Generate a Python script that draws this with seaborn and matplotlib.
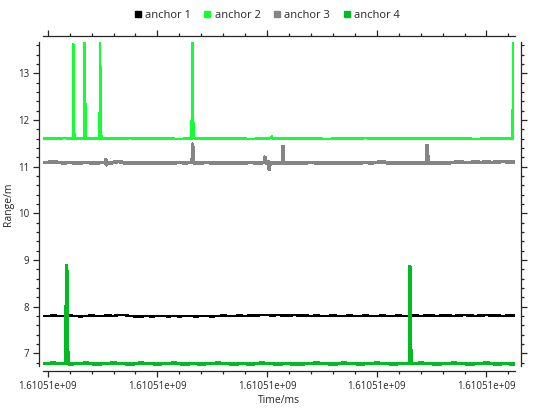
import numpy as np
import pandas as pd
import matplotlib
matplotlib.use("Agg")
import matplotlib.pyplot as plt
import seaborn as sns
from matplotlib.lines import Line2D
from matplotlib.ticker import MultipleLocator, AutoMinorLocator, FuncFormatter

sns.set_style("ticks")
plt.rcParams['font.family'] = ['Open Sans', 'DejaVu Sans']

# time origin (s) and sample times, offsets in seconds
T0 = 1610510000
t_base = [0, 1, 2, 3, 4, 5, 6, 7, 8, 9,
          10, 11, 12, 13, 14, 15, 16, 17, 18, 19,
          20, 21, 22, 23, 24, 25, 26, 27, 28, 29,
          30, 31, 32, 33, 34, 35, 36, 37, 38, 39,
          40, 41, 42, 43, 44, 45, 46, 47, 48, 49,
          50, 51, 52, 53, 54, 55, 56, 57, 58, 59,
          60, 61, 62, 63, 64, 65, 66, 67, 68, 69,
          70, 71, 72, 73, 74, 75, 76, 77, 78, 79,
          80, 81, 82, 83, 84]

names = ["anchor 1", "anchor 2", "anchor 3", "anchor 4"]
colors = ["#000000", "#11ff33", "#858585", "#00bb22"]
widths = [1.1, 1.0, 1.9, 1.9]

a1_base = [7.80, 7.81, 7.80, 7.80, 7.81, 7.80, 7.79, 7.80, 7.81, 7.80,
           7.80, 7.81, 7.80, 7.82, 7.82, 7.80, 7.79, 7.79, 7.80, 7.79,
           7.80, 7.80, 7.79, 7.80, 7.79, 7.80, 7.80, 7.79, 7.80, 7.80,
           7.79, 7.80, 7.81, 7.80, 7.80, 7.81, 7.80, 7.81, 7.81, 7.82,
           7.82, 7.81, 7.82, 7.81, 7.81, 7.82, 7.81, 7.81, 7.80, 7.81,
           7.80, 7.80, 7.81, 7.80, 7.80, 7.81, 7.80, 7.80, 7.81, 7.80,
           7.80, 7.81, 7.80, 7.80, 7.81, 7.80, 7.80, 7.81, 7.80, 7.81,
           7.81, 7.80, 7.81, 7.81, 7.80, 7.81, 7.82, 7.81, 7.80, 7.81,
           7.82, 7.81, 7.81, 7.80, 7.81]
a1_extra_t = [-0.86, 85.2]
a1_extra_r = [7.80, 7.81]

a2_base = [11.60, 11.60, 11.60, 11.61, 11.60, 11.60, 11.60, 11.60, 11.60, 11.60,
           11.60, 11.60, 11.60, 11.60, 11.60, 11.61, 11.60, 11.60, 11.60, 11.60,
           11.60, 11.60, 11.60, 11.60, 11.59, 11.60, 11.60, 11.60, 11.60, 11.60,
           11.60, 11.60, 11.60, 11.60, 11.60, 11.60, 11.60, 11.59, 11.60, 11.60,
           11.60, 11.60, 11.60, 11.60, 11.60, 11.60, 11.60, 11.60, 11.60, 11.60,
           11.60, 11.59, 11.60, 11.60, 11.60, 11.60, 11.60, 11.60, 11.61, 11.60,
           11.60, 11.60, 11.60, 11.60, 11.60, 11.60, 11.60, 11.60, 11.60, 11.60,
           11.60, 11.60, 11.60, 11.60, 11.60, 11.60, 11.60, 11.60, 11.59, 11.60,
           11.60, 11.60, 11.60, 11.60, 11.60]
a2_extra_t = [-0.86,
              4.60, 4.68, 4.76, 4.84, 4.92,
              6.62, 6.72, 6.82, 6.90, 6.97,
              9.45, 9.55, 9.65, 9.75, 9.88,
              26.22, 26.30, 26.40, 26.50, 26.60, 26.80,
              40.75, 40.88, 40.97,
              84.75, 84.85]
a2_extra_r = [11.60,
              11.60, 13.62, 13.10, 11.72, 11.62,
              11.60, 13.66, 12.80, 11.75, 11.62,
              11.60, 13.64, 12.40, 11.68, 11.61,
              11.60, 12.60, 13.66, 12.20, 11.65, 11.61,
              11.61, 11.66, 11.62,
              11.60, 13.68]

a3_base = [11.09, 11.10, 11.09, 11.08, 11.09, 11.08, 11.08, 11.09, 11.08, 11.08,
           11.09, 11.07, 11.09, 11.11, 11.08, 11.07, 11.08, 11.08, 11.07, 11.08,
           11.08, 11.07, 11.08, 11.08, 11.09, 11.08, 11.09, 11.08, 11.08, 11.09,
           11.08, 11.07, 11.08, 11.08, 11.07, 11.08, 11.08, 11.09, 11.08, 11.08,
           11.07, 11.08, 11.08, 11.08, 11.07, 11.08, 11.07, 11.08, 11.09, 11.08,
           11.08, 11.07, 11.08, 11.08, 11.08, 11.07, 11.08, 11.08, 11.09, 11.08,
           11.09, 11.11, 11.08, 11.08, 11.07, 11.08, 11.08, 11.07, 11.08, 11.08,
           11.08, 11.08, 11.07, 11.08, 11.09, 11.10, 11.09, 11.09, 11.10, 11.09,
           11.10, 11.09, 11.10, 11.11, 11.10]
a3_extra_t = [-0.86,
              10.50, 10.60, 10.70, 10.85,
              26.35, 26.42, 26.50, 26.60,
              39.50, 39.60, 39.70, 40.30, 40.40, 40.50,
              42.80, 42.86, 42.94, 42.99,
              69.10, 69.16, 69.30, 69.45,
              85.2]
a3_extra_r = [11.09,
              11.09, 11.15, 11.04, 11.08,
              11.09, 11.48, 11.12, 11.08,
              11.09, 11.20, 11.12, 11.10, 10.94, 11.05,
              11.08, 11.43, 11.42, 11.10,
              11.08, 11.45, 11.20, 11.08,
              11.10]

a4_base = [6.78, 6.79, 6.78, 6.78, 6.77, 6.78, 6.78, 6.79, 6.78, 6.77,
           6.78, 6.78, 6.79, 6.78, 6.78, 6.77, 6.78, 6.79, 6.78, 6.78,
           6.77, 6.78, 6.78, 6.79, 6.78, 6.77, 6.78, 6.78, 6.77, 6.78,
           6.78, 6.79, 6.78, 6.78, 6.77, 6.78, 6.78, 6.77, 6.78, 6.79,
           6.78, 6.78, 6.77, 6.78, 6.78, 6.77, 6.77, 6.78, 6.78, 6.79,
           6.78, 6.78, 6.77, 6.78, 6.79, 6.78, 6.78, 6.77, 6.78, 6.78,
           6.79, 6.78, 6.78, 6.77, 6.78, 6.78, 6.78, 6.78, 6.79, 6.78,
           6.78, 6.77, 6.78, 6.78, 6.79, 6.78, 6.78, 6.77, 6.78, 6.78,
           6.79, 6.78, 6.77, 6.78, 6.78]
a4_extra_t = [-0.86,
              3.35, 3.42, 3.52, 3.60, 3.70,
              65.95, 66.02, 66.12, 66.20, 66.30,
              85.2]
a4_extra_r = [6.78,
              6.78, 8.87, 8.60, 7.20, 6.80,
              6.78, 8.86, 7.66, 6.90, 6.78,
              6.77]

series = [(a1_base, a1_extra_t, a1_extra_r),
          (a2_base, a2_extra_t, a2_extra_r),
          (a3_base, a3_extra_t, a3_extra_r),
          (a4_base, a4_extra_t, a4_extra_r)]

fig = plt.figure(figsize=(5.45, 4.11), dpi=100)
ax = fig.add_axes([43 / 545, 45 / 411, 472 / 545, 324 / 411])

for name, col, lw, (base, et, er) in zip(names, colors, widths, series):
    df = pd.DataFrame({"t": t_base + et, "r": base + er}).sort_values("t")
    df["time"] = T0 + df["t"]
    sns.lineplot(data=df, x="time", y="r", color=col, lw=lw, ax=ax,
                 estimator=None, legend=False, antialiased=False)

ax.set_xlim(T0 - 0.86, T0 + 85.2)
ax.set_ylim(6.728, 13.67)

ax.xaxis.set_major_locator(MultipleLocator(20))
ax.xaxis.set_minor_locator(AutoMinorLocator(5))
ax.xaxis.set_major_formatter(FuncFormatter(lambda v, p: f"{v:g}"))
ax.yaxis.set_major_locator(MultipleLocator(1))
ax.yaxis.set_minor_locator(AutoMinorLocator(5))

for side, off in [("left", 3), ("right", 4), ("top", 4.3), ("bottom", 3.6)]:
    ax.spines[side].set_visible(True)
    ax.spines[side].set_position(("outward", off))
    ax.spines[side].set_linewidth(0.9)

ax.tick_params(which="both", direction="out", top=True, right=True,
               labeltop=False, labelright=False, width=0.9, labelsize=7)
ax.tick_params(which="major", length=4.5, pad=2.5)
ax.tick_params(which="minor", length=2.2)

ax.set_xlabel("Time/ms", fontsize=7.5, labelpad=2)
ax.set_ylabel("Range/m", fontsize=7.5, labelpad=3)

handles = [Line2D([], [], marker="s", ls="", color=c, markersize=4.2) for c in colors]
fig.legend(handles, names, loc="center", bbox_to_anchor=(0.49, 0.963),
           ncol=4, frameon=False, fontsize=8, handlelength=0.6,
           handletextpad=0.35, columnspacing=1.2, borderpad=0)

fig.savefig("out.png", dpi=100)
